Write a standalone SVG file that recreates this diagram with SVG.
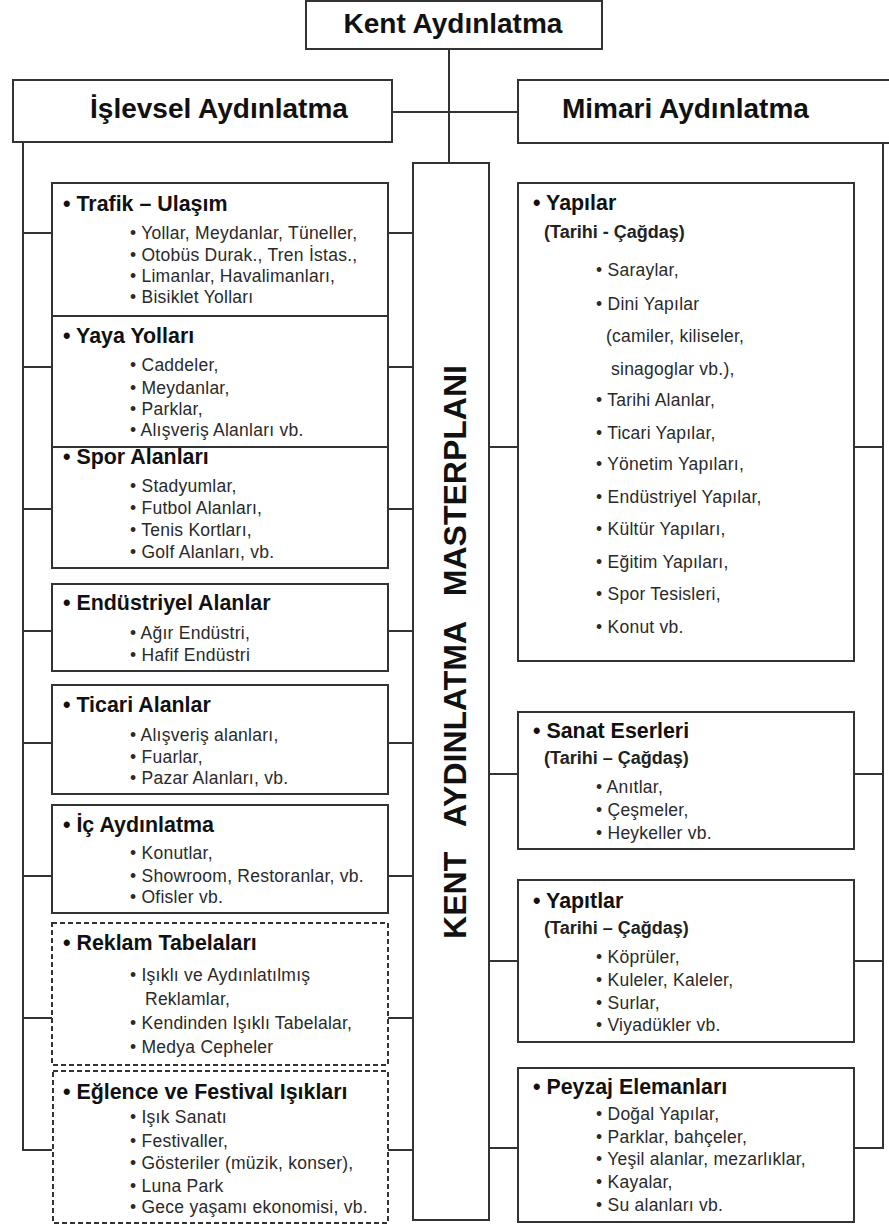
<svg xmlns="http://www.w3.org/2000/svg" width="889" height="1227" viewBox="0 0 889 1227">
<style>
.box{fill:#fff;stroke:#333;stroke-width:2}
.dash{fill:#fff;stroke:#333;stroke-width:2;stroke-dasharray:5 3}
.ln{stroke:#333;stroke-width:2;fill:none}
.top{font-family:"Liberation Sans",Arial,sans-serif;font-weight:bold;font-size:28px;fill:#111}
.h{font-family:"Liberation Sans",Arial,sans-serif;font-weight:bold;font-size:21.4px;fill:#111}
.p{font-family:"Liberation Sans",Arial,sans-serif;font-weight:bold;font-size:18px;fill:#222}
.s{font-family:"Liberation Sans",Arial,sans-serif;font-size:17.5px;letter-spacing:0.25px;fill:#2a2a2a}
.mp{font-family:"Liberation Sans",Arial,sans-serif;font-weight:bold;font-size:32px;fill:#111;word-spacing:17px}
</style>
<rect width="889" height="1227" fill="#fff"/>
<g id="connectors">
<line class="ln" x1="449" y1="49" x2="449" y2="163"/>
<line class="ln" x1="392" y1="112" x2="518" y2="112"/>
<polyline class="ln" points="23,142 23,1150 52,1150"/>
<polyline class="ln" points="883,143 883,1148 854,1148"/>
<line class="ln" x1="23" y1="233" x2="52" y2="233"/>
<line class="ln" x1="23" y1="367" x2="52" y2="367"/>
<line class="ln" x1="23" y1="509" x2="52" y2="509"/>
<line class="ln" x1="23" y1="631" x2="52" y2="631"/>
<line class="ln" x1="23" y1="743" x2="52" y2="743"/>
<line class="ln" x1="23" y1="876" x2="52" y2="876"/>
<line class="ln" x1="23" y1="1018" x2="52" y2="1018"/>
<line class="ln" x1="388" y1="233" x2="413" y2="233"/>
<line class="ln" x1="388" y1="367" x2="413" y2="367"/>
<line class="ln" x1="388" y1="509" x2="413" y2="509"/>
<line class="ln" x1="388" y1="631" x2="413" y2="631"/>
<line class="ln" x1="388" y1="743" x2="413" y2="743"/>
<line class="ln" x1="388" y1="876" x2="413" y2="876"/>
<line class="ln" x1="388" y1="1018" x2="413" y2="1018"/>
<line class="ln" x1="388" y1="1150" x2="413" y2="1150"/>
<line class="ln" x1="489" y1="447" x2="518" y2="447"/>
<line class="ln" x1="489" y1="774" x2="518" y2="774"/>
<line class="ln" x1="489" y1="961" x2="518" y2="961"/>
<line class="ln" x1="489" y1="1148" x2="518" y2="1148"/>
<line class="ln" x1="854" y1="447" x2="883" y2="447"/>
<line class="ln" x1="854" y1="774" x2="883" y2="774"/>
<line class="ln" x1="854" y1="961" x2="883" y2="961"/>
</g>
<g id="kent">
<rect class="box" x="306" y="1" width="296" height="48"/>
<text class="top" x="453" y="33" text-anchor="middle">Kent Aydınlatma</text>
</g>
<g id="islevsel">
<rect class="box" x="13" y="80" width="379" height="62"/>
<text class="top" x="219" y="118" text-anchor="middle">İşlevsel Aydınlatma</text>
</g>
<g id="mimari">
<rect class="box" x="518" y="80" width="380" height="63"/>
<text class="top" x="562" y="118">Mimari Aydınlatma</text>
</g>
<g id="masterplan">
<rect class="box" x="413" y="163" width="76" height="1057"/>
<text class="mp" transform="translate(466,652) rotate(-90)" text-anchor="middle">KENT AYDINLATMA MASTERPLANI</text>
</g>
<g id="trafik">
<rect class="box" x="52" y="183" width="336" height="133"/>
<text class="h" x="63" y="211">• Trafik – Ulaşım</text>
<text class="s" x="130" y="239">•  Yollar, Meydanlar, Tüneller,</text>
<text class="s" x="130" y="261">• Otobüs Durak., Tren İstas.,</text>
<text class="s" x="130" y="282">• Limanlar, Havalimanları,</text>
<text class="s" x="130" y="303">• Bisiklet Yolları</text>
</g>
<g id="yaya">
<rect class="box" x="52" y="316" width="336" height="131"/>
<text class="h" x="63" y="343">• Yaya Yolları</text>
<text class="s" x="130" y="371">•  Caddeler,</text>
<text class="s" x="130" y="394">• Meydanlar,</text>
<text class="s" x="130" y="415">• Parklar,</text>
<text class="s" x="130" y="436">• Alışveriş Alanları vb.</text>
</g>
<g id="spor">
<rect class="box" x="52" y="447" width="336" height="121"/>
<text class="h" x="63" y="464">• Spor Alanları</text>
<text class="s" x="130" y="492">•  Stadyumlar,</text>
<text class="s" x="130" y="514">• Futbol Alanları,</text>
<text class="s" x="130" y="536">• Tenis Kortları,</text>
<text class="s" x="130" y="558">• Golf Alanları, vb.</text>
</g>
<g id="endustriyel">
<rect class="box" x="52" y="584" width="336" height="87"/>
<text class="h" x="63" y="610">• Endüstriyel Alanlar</text>
<text class="s" x="130" y="639">•  Ağır Endüstri,</text>
<text class="s" x="130" y="661">• Hafif Endüstri</text>
</g>
<g id="ticari">
<rect class="box" x="52" y="685" width="336" height="109"/>
<text class="h" x="63" y="712">• Ticari Alanlar</text>
<text class="s" x="130" y="741">•  Alışveriş alanları,</text>
<text class="s" x="130" y="763">• Fuarlar,</text>
<text class="s" x="130" y="784">• Pazar Alanları, vb.</text>
</g>
<g id="ic">
<rect class="box" x="52" y="805" width="336" height="108"/>
<text class="h" x="63" y="832">• İç Aydınlatma</text>
<text class="s" x="130" y="859">•  Konutlar,</text>
<text class="s" x="130" y="882">• Showroom, Restoranlar, vb.</text>
<text class="s" x="130" y="903">• Ofisler vb.</text>
</g>
<g id="reklam">
<rect class="dash" x="52" y="923" width="336" height="142"/>
<text class="h" x="63" y="950">• Reklam Tabelaları</text>
<text class="s" x="130" y="981">•  Işıklı ve Aydınlatılmış</text>
<text class="s" x="145" y="1005">Reklamlar,</text>
<text class="s" x="130" y="1029">• Kendinden Işıklı Tabelalar,</text>
<text class="s" x="130" y="1053">• Medya Cepheler</text>
</g>
<g id="eglence">
<rect class="dash" x="53" y="1071" width="335" height="152"/>
<text class="h" x="63" y="1099">• Eğlence ve Festival Işıkları</text>
<text class="s" x="130" y="1123">• Işık Sanatı</text>
<text class="s" x="130" y="1147">•  Festivaller,</text>
<text class="s" x="130" y="1169">• Gösteriler (müzik, konser),</text>
<text class="s" x="130" y="1192">• Luna Park</text>
<text class="s" x="130" y="1213">• Gece yaşamı ekonomisi, vb.</text>
</g>
<g id="yapilar">
<rect class="box" x="518" y="183" width="336" height="478"/>
<text class="h" x="533" y="210">• Yapılar</text>
<text class="p" x="544" y="238">(Tarihi - Çağdaş)</text>
<text class="s" x="596" y="276">•  Saraylar,</text>
<text class="s" x="596" y="310">• Dini Yapılar</text>
<text class="s" x="606" y="342">(camiler, kiliseler,</text>
<text class="s" x="611" y="375">sinagoglar vb.),</text>
<text class="s" x="596" y="406">• Tarihi Alanlar,</text>
<text class="s" x="596" y="439">• Ticari Yapılar,</text>
<text class="s" x="596" y="470">• Yönetim Yapıları,</text>
<text class="s" x="596" y="503">• Endüstriyel Yapılar,</text>
<text class="s" x="596" y="535">• Kültür Yapıları,</text>
<text class="s" x="596" y="568">• Eğitim Yapıları,</text>
<text class="s" x="596" y="600">• Spor Tesisleri,</text>
<text class="s" x="596" y="633">• Konut vb.</text>
</g>
<g id="sanat">
<rect class="box" x="518" y="712" width="336" height="137"/>
<text class="h" x="533" y="738">• Sanat Eserleri</text>
<text class="p" x="544" y="764">(Tarihi – Çağdaş)</text>
<text class="s" x="596" y="793">•  Anıtlar,</text>
<text class="s" x="596" y="816">• Çeşmeler,</text>
<text class="s" x="596" y="839">• Heykeller vb.</text>
</g>
<g id="yapitlar">
<rect class="box" x="518" y="880" width="336" height="162"/>
<text class="h" x="533" y="908">• Yapıtlar</text>
<text class="p" x="544" y="934">(Tarihi – Çağdaş)</text>
<text class="s" x="596" y="963">•  Köprüler,</text>
<text class="s" x="596" y="986">• Kuleler, Kaleler,</text>
<text class="s" x="596" y="1009">• Surlar,</text>
<text class="s" x="596" y="1031">• Viyadükler vb.</text>
</g>
<g id="peyzaj">
<rect class="box" x="518" y="1068" width="336" height="154"/>
<text class="h" x="533" y="1094">• Peyzaj Elemanları</text>
<text class="s" x="596" y="1120">• Doğal Yapılar,</text>
<text class="s" x="596" y="1143">• Parklar, bahçeler,</text>
<text class="s" x="596" y="1165">• Yeşil alanlar, mezarlıklar,</text>
<text class="s" x="596" y="1188">• Kayalar,</text>
<text class="s" x="596" y="1211">• Su alanları vb.</text>
</g>
</svg>
